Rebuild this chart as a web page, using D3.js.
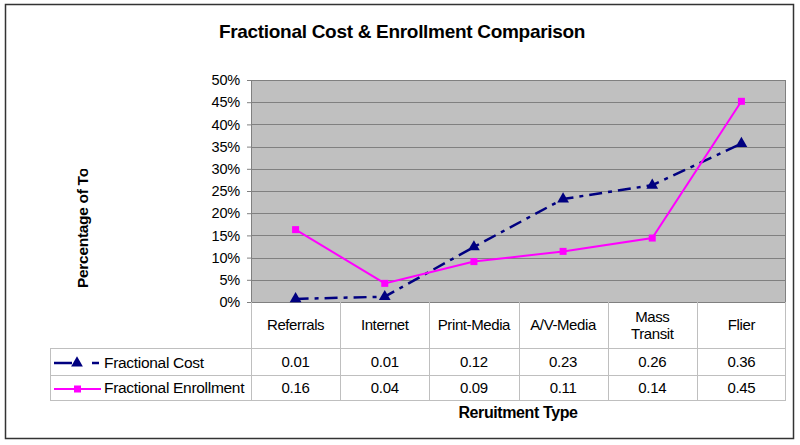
<!DOCTYPE html>
<html><head><meta charset="utf-8">
<script src="https://cdn.jsdelivr.net/npm/d3@7"></script>
<style>
html,body{margin:0;padding:0;background:#fff;}
svg{display:block;font-family:"Liberation Sans",Arial,sans-serif;}
</style></head>
<body><svg id="c" width="800" height="445"></svg>
<script>
const categories = ["Referrals","Internet","Print-Media","A/V-Media","Mass Transit","Flier"];
const costValues = [0.007, 0.012, 0.124, 0.232, 0.263, 0.357];
const enrollValues = [0.163, 0.042, 0.091, 0.114, 0.144, 0.452];
const yTicks = [0,0.05,0.1,0.15,0.2,0.25,0.3,0.35,0.4,0.45,0.5];
const seriesNames = ["Fractional Cost","Fractional Enrollment"];

const svg = d3.select("#c");
const plot = {left:251, right:786, top:80, bottom:302};
const rows = {header:348, r1:375, r2:400, legLeft:50};

// outer border
svg.append("rect").attr("x",5.5).attr("y",4.5).attr("width",788).attr("height",434)
  .attr("fill","#fff").attr("stroke","#333").attr("stroke-width",1.5);

const x = d3.scaleBand().domain(categories).range([plot.left, plot.right]).padding(0);
const y = d3.scaleLinear().domain([0,0.5]).range([plot.bottom, plot.top]);

// title
svg.append("text").attr("x",402).attr("y",38).attr("text-anchor","middle")
  .attr("font-size",19).attr("font-weight","bold").attr("fill","#000").attr("letter-spacing","-0.3")
  .text("Fractional Cost & Enrollment Comparison");

// plot background
svg.append("rect").attr("x",plot.left).attr("y",plot.top)
  .attr("width",plot.right-plot.left).attr("height",plot.bottom-plot.top)
  .attr("fill","#c0c0c0");

// gridlines
svg.append("g").selectAll("line").data(yTicks.slice(1)).join("line")
  .attr("x1",plot.left).attr("x2",plot.right)
  .attr("y1",d=>Math.round(y(d))+0.5).attr("y2",d=>Math.round(y(d))+0.5)
  .attr("stroke","#808080").attr("stroke-width",1);

svg.append("rect").attr("x",plot.left+0.5).attr("y",plot.top+0.5)
  .attr("width",plot.right-plot.left-1).attr("height",plot.bottom-plot.top)
  .attr("fill","none").attr("stroke","#808080");

// y axis
const yAxis = d3.axisLeft(y).tickValues(yTicks).tickFormat(d3.format(".0%")).tickSize(4).tickPadding(7);
const ya = svg.append("g").attr("transform",`translate(${plot.left},0)`).call(yAxis);
ya.select(".domain").attr("stroke","#808080");
ya.selectAll(".tick line").attr("stroke","#808080");
ya.selectAll(".tick text").attr("font-size",14.5).attr("fill","#000")
  .attr("font-family","Liberation Sans, Arial, sans-serif").attr("letter-spacing","-0.2");

// y axis title (clipped)
svg.append("clipPath").attr("id","ytclip").append("rect")
  .attr("x",60).attr("y",169).attr("width",40).attr("height",200);
svg.append("g").attr("clip-path","url(#ytclip)")
  .append("text").attr("transform","translate(88,288) rotate(-90)")
  .attr("font-size",15.5).attr("font-weight","bold").attr("fill","#000").attr("letter-spacing","-0.3")
  .text("Percentage of Total");

// table lines
const tl = svg.append("g").attr("stroke","#bfbfbf").attr("stroke-width",1).attr("fill","none");
categories.forEach((c,i)=>{
  const xx = Math.round(x(c))+0.5;
  if(i>0) tl.append("line").attr("x1",xx).attr("x2",xx).attr("y1",plot.bottom).attr("y2",rows.r2);
});
tl.append("line").attr("x1",plot.left+0.5).attr("x2",plot.left+0.5).attr("y1",plot.bottom).attr("y2",rows.r2);
tl.append("line").attr("x1",plot.right-0.5).attr("x2",plot.right-0.5).attr("y1",plot.bottom).attr("y2",rows.r2);
tl.append("line").attr("x1",rows.legLeft+0.5).attr("x2",rows.legLeft+0.5).attr("y1",rows.header).attr("y2",rows.r2);
[rows.header, rows.r1, rows.r2].forEach(yy=>{
  tl.append("line").attr("x1",rows.legLeft).attr("x2",plot.right).attr("y1",yy+0.5).attr("y2",yy+0.5);
});

// category labels
const cx = c => x(c)+x.bandwidth()/2;
categories.forEach(c=>{
  const parts = c==="Mass Transit" ? ["Mass","Transit"] : [c];
  const t = svg.append("text").attr("text-anchor","middle").attr("font-size",15)
    .attr("fill","#000").attr("letter-spacing","-0.4");
  if(parts.length===1){
    t.attr("x",cx(c)).attr("y",330).text(c);
  } else {
    t.append("tspan").attr("x",cx(c)).attr("y",322).text(parts[0]);
    t.append("tspan").attr("x",cx(c)).attr("y",339).text(parts[1]);
  }
});

// table values
const fmt = d3.format(".2f");
[[costValues,367],[enrollValues,393]].forEach(([vals,yy])=>{
  svg.append("g").selectAll("text").data(vals).join("text")
    .attr("x",(d,i)=>cx(categories[i])).attr("y",yy).attr("text-anchor","middle")
    .attr("font-size",15).attr("fill","#000").attr("letter-spacing","-0.3")
    .text(d=>fmt(d));
});

// series lines
const line = d3.line().x((d,i)=>cx(categories[i])).y(d=>y(d));
const navy = "#000080", mag = "#ff00ff";
svg.append("path").datum(costValues).attr("d",line).attr("fill","none")
  .attr("stroke",navy).attr("stroke-width",2.5).attr("stroke-dasharray","13,6,4,6");
svg.append("path").datum(enrollValues).attr("d",line).attr("fill","none")
  .attr("stroke",mag).attr("stroke-width",2);

const tri = d3.symbol().type(d3.symbolTriangle).size(60);
svg.append("g").selectAll("path").data(costValues).join("path")
  .attr("d",tri).attr("fill",navy)
  .attr("transform",(d,i)=>`translate(${cx(categories[i])},${y(d)})`);
svg.append("g").selectAll("rect").data(enrollValues).join("rect")
  .attr("x",(d,i)=>cx(categories[i])-3.5).attr("y",d=>y(d)-3.5)
  .attr("width",7).attr("height",7).attr("fill",mag);

// legend keys in table
const lk = svg.append("g");
lk.append("line").attr("x1",54).attr("x2",99).attr("y1",363).attr("y2",363)
  .attr("stroke",navy).attr("stroke-width",2.5).attr("stroke-dasharray","18,20,7,10");
lk.append("path").attr("d",tri).attr("fill",navy).attr("transform","translate(77,363)");
lk.append("line").attr("x1",54).attr("x2",101).attr("y1",389).attr("y2",389)
  .attr("stroke",mag).attr("stroke-width",2);
lk.append("rect").attr("x",74).attr("y",385.5).attr("width",7).attr("height",7).attr("fill",mag);

svg.append("text").attr("x",104).attr("y",368).attr("font-size",15.5).attr("letter-spacing","-0.3").text(seriesNames[0]);
svg.append("text").attr("x",104).attr("y",393).attr("font-size",15.5).attr("letter-spacing","-0.3").text(seriesNames[1]);

// x axis title
svg.append("text").attr("x",518).attr("y",418).attr("text-anchor","middle")
  .attr("font-size",16).attr("font-weight","bold").attr("letter-spacing","-0.4").text("Reruitment Type");
</script>
</body></html>
